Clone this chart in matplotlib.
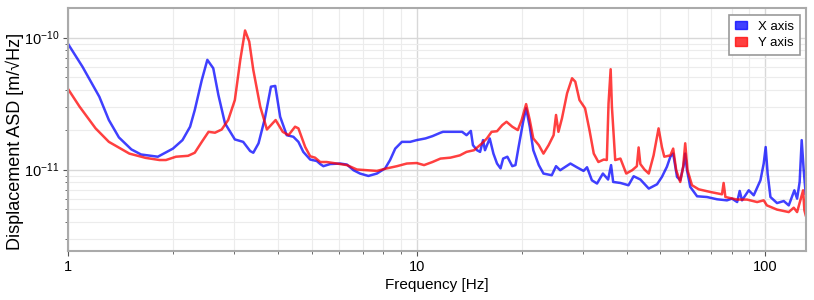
import numpy as np
import matplotlib.pyplot as plt
from matplotlib.patches import Patch
from matplotlib.ticker import FuncFormatter, NullFormatter

# amplitude spectral density, values in units of 1e-12 m/sqrt(Hz)
freq_x = [1.00, 1.10, 1.23, 1.31, 1.40, 1.52, 1.62, 1.81, 2.00, 2.13, 2.24, 2.31, 2.42, 2.51,
          2.61, 2.70, 2.82, 3.01, 3.18, 3.33, 3.40, 3.52, 3.67, 3.82, 3.93, 4.06, 4.24, 4.43,
          4.58, 4.73, 4.95, 5.17, 5.29, 5.40, 5.65, 6.03, 6.31, 6.59, 6.88, 7.27, 7.69, 8.12,
          8.39, 8.68, 9.07, 9.58, 10.0, 10.6, 11.1, 11.7, 11.9, 12.8, 13.5, 13.9, 14.3, 14.5,
          14.9, 15.2, 15.5, 15.7, 16.2, 16.6, 17.0, 17.4, 17.7, 18.2, 18.8, 19.2, 19.6, 20.2,
          20.6, 21.1, 21.6, 22.4, 23.1, 24.4, 25.1, 25.8, 27.6, 28.8, 30.1, 30.8, 31.8, 32.9,
          34.2, 35.4, 36.1, 36.6, 38.4, 40.5, 41.9, 43.8, 46.3, 48.9, 50.5, 52.2, 53.4, 54.4,
          55.8, 57.0, 58.3, 58.9, 59.6, 60.9, 63.7, 68.0, 72.7, 77.6, 80.2, 83.0, 84.4, 85.7,
          89.6, 92.6, 96.8, 98.9, 100.2, 101.5, 103.4, 108.0, 112.9, 116.7, 121.1, 123.3,
          125.4, 127.1, 128.8, 130.5]
asd_x = [89.6, 60.2, 35.6, 23.7, 17.5, 14.2, 13.0, 12.5, 14.4, 16.7, 21.1, 28.2, 47.7, 67.7,
         58.5, 36.7, 22.4, 16.9, 16.2, 13.8, 13.4, 15.8, 24.4, 42.4, 43.0, 25.1, 18.2, 17.7,
         16.2, 13.6, 11.9, 11.6, 11.0, 10.6, 11.0, 11.1, 10.9, 9.88, 9.32, 8.94, 9.32, 10.2,
         11.8, 14.4, 16.2, 16.2, 16.7, 17.2, 17.9, 19.0, 19.3, 19.3, 19.3, 18.2, 19.6, 15.3,
         14.0, 13.6, 16.7, 14.0, 17.2, 13.2, 11.1, 10.2, 12.1, 12.5, 10.6, 10.8, 14.8, 23.0,
         29.1, 21.1, 14.0, 10.8, 9.32, 9.05, 10.6, 9.88, 11.1, 10.4, 9.76, 10.4, 8.29, 7.83,
         9.32, 8.40, 10.8, 8.05, 7.91, 7.60, 8.89, 8.40, 7.17, 7.73, 8.79, 10.5, 12.5, 13.2,
         8.79, 8.29, 10.8, 13.2, 9.88, 7.38, 6.27, 6.19, 5.95, 5.84, 6.02, 5.67, 6.88, 5.84,
         6.96, 6.38, 8.29, 11.1, 14.8, 9.32, 6.19, 5.57, 5.77, 5.35, 6.96, 6.02,
         8.05, 16.7, 9.88, 6.57]

freq_y = [1.00, 1.08, 1.20, 1.31, 1.50, 1.67, 1.83, 1.91, 2.04, 2.21, 2.31, 2.42, 2.53, 2.64,
          2.76, 2.88, 3.01, 3.12, 3.22, 3.31, 3.40, 3.56, 3.72, 3.94, 4.13, 4.29, 4.48, 4.58,
          4.79, 4.95, 5.11, 5.29, 5.52, 5.90, 6.31, 6.74, 7.20, 7.69, 8.21, 8.78, 9.37, 10.0,
          10.5, 11.1, 11.7, 12.5, 13.3, 13.9, 14.6, 15.4, 15.9, 16.4, 17.0, 17.6, 18.1, 18.8,
          19.5, 20.0, 20.6, 21.1, 21.6, 22.4, 23.1, 23.9, 24.7, 25.1, 25.5, 26.1, 27.0, 27.9,
          28.5, 29.3, 30.4, 31.3, 32.2, 33.2, 34.4, 35.1, 35.5, 36.0, 36.3, 37.1, 38.4, 39.9,
          41.5, 42.8, 43.3, 43.8, 45.0, 46.3, 47.8, 49.4, 50.5, 51.3, 53.4, 54.4, 55.5, 57.0,
          58.1, 58.9, 59.8, 61.6, 64.4, 69.5, 75.1, 75.9, 76.8, 83.0, 88.6, 94.7, 98.9, 101.0,
          108.0, 116.7, 120.6, 123.3, 126.6, 128.3, 129.4, 130.5]
asd_y = [40.8, 29.9, 20.5, 16.2, 13.2, 12.25, 11.8, 11.8, 12.5, 12.7, 13.4, 16.2, 19.3, 19.0,
         20.1, 23.7, 33.6, 67.7, 113.0, 93.2, 56.8, 29.9, 20.1, 23.7, 19.3, 18.2, 21.1, 20.5,
         14.8, 12.6, 12.3, 11.4, 11.4, 11.1, 10.8, 10.0, 9.88, 9.76, 10.2, 10.6, 11.1, 11.2,
         10.8, 11.4, 12.1, 12.3, 12.8, 13.6, 14.0, 15.8, 17.2, 19.3, 19.5, 21.7, 23.0, 21.1,
         19.9, 23.7, 31.3, 23.7, 17.2, 15.3, 13.2, 15.3, 18.2, 25.9, 19.3, 24.4, 37.8, 49.1,
         46.3, 33.6, 29.1, 19.9, 13.2, 11.4, 11.9, 11.8, 31.7, 57.5, 29.9, 11.8, 12.1, 9.32,
         9.88, 10.6, 14.7, 11.0, 10.0, 9.32, 12.8, 20.5, 14.8, 12.5, 12.8, 14.4, 9.88, 8.05,
         10.5, 15.8, 9.88, 7.60, 7.08, 6.76, 6.49, 7.91, 6.19, 5.92, 5.92, 5.67, 5.84, 5.35,
         4.97, 4.76, 5.14, 4.76, 6.12, 6.96, 4.91, 4.50]

plt.rcParams['font.family'] = ['Liberation Sans', 'DejaVu Sans']

fig = plt.figure(figsize=(8.14, 3.0), dpi=100)
ax = fig.add_axes([0.0835, 0.163, 0.907, 0.81])

ax.loglog(freq_x, np.array(asd_x) * 1e-12, color=(0, 0, 1), alpha=0.75, lw=1.8)
ax.loglog(freq_y, np.array(asd_y) * 1e-12, color=(1, 0, 0), alpha=0.75, lw=1.8)

ax.set_xlim(1, 131)
ax.set_ylim(2.41e-12, 1.67e-10)
ax.xaxis.set_major_formatter(FuncFormatter(lambda v, p: f"{v:g}"))
ax.xaxis.set_minor_formatter(NullFormatter())
ax.yaxis.set_minor_formatter(NullFormatter())
ax.set_xlabel("Frequency [Hz]", fontsize=11, labelpad=3)
ax.set_ylabel("Displacement ASD [m/\u221aHz]", fontsize=13)
ax.yaxis.set_label_coords(-0.06, 0.45)

ax.grid(True, which="major", color="#d8d8d8", lw=1.0)
ax.grid(True, which="minor", color="#ececec", lw=0.8)
ax.set_axisbelow(True)
for s in ax.spines.values():
    s.set_color("#aaaaaa")
    s.set_linewidth(1.5)
ax.tick_params(which="both", direction="out", color="#555555", labelsize=10.5, pad=3)
ax.tick_params(which="major", length=3.5)
ax.tick_params(which="minor", length=2.5)

handles = [Patch(color=(0, 0, 1), alpha=0.75, label="X axis"),
           Patch(color=(1, 0, 0), alpha=0.75, label="Y axis")]
leg = ax.legend(handles=handles, loc="upper right", fontsize=9.5, fancybox=False,
                edgecolor="#999999", framealpha=1, handlelength=0.9, handleheight=0.6,
                borderaxespad=0.5, borderpad=0.45, labelspacing=0.35)
leg.get_frame().set_linewidth(1.2)

fig.savefig("out.png", dpi=100)
